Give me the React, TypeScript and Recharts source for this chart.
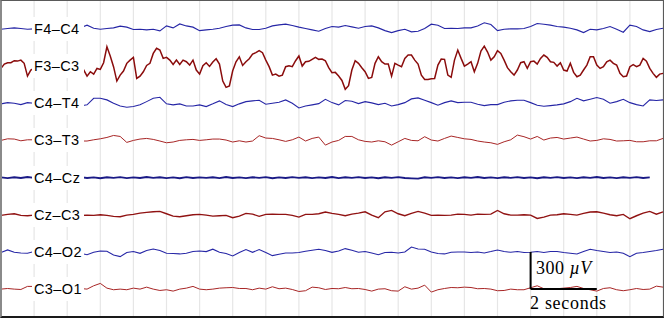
import { CartesianGrid, Line, LineChart, ReferenceLine, XAxis, YAxis } from "recharts"

// EEG montage, 20 s shown, traces stacked 300 µV apart
const W = 664
const H = 318
const SPACING = 300
const STEP = 0.2

const channels = ["F4–C4", "F3–C3", "C4–T4", "C3–T3", "C4–Cz", "Cz–C3", "C4–O2", "C3–O1"]
const seconds = [0, 1, 2, 3, 4, 5, 6, 7, 8, 9, 10, 11, 12, 13, 14, 15, 16, 17, 18, 19, 20]

// samples every 0.2 s, in µV; nulls sit under the channel labels
const f4c4 = [-3, 3, 8, 3, -3, 0, null, null, null, null, null, null,
  10, 30, 5, -3, 3, 8, 22, 14, -5, -3, -8, -3, -16, 24, 8, 40, 24, 14, -14, -8, -3, 5,
  19, 30, 32, 8, -5, -5, 5, 24, 32, 38, 27, 14, 3, -8, -19, 3, 19, 14, 27, 16, 5, 19, 24, 8, -14, -30, -14, -3, -24, -19, 3, 38, 30,
  3, 5, 3, 8, 8, 24, 49, 35, -14, -3, 0, 0, 3, 19, 43, 38, 30, 19, 14, 5, -8, -30, -3, -8, 3, 19, -3, -27, 30, 19, -8, -22, -5, 5]
const f3c3 = [-19, 27, 43, 48, -81, -19, null, null, null, null, null, null,
  -46, -81, -65, -27, 156, -5, -73, 22, 70, -81, 5, 102, 129, 70, 13, 13, 35, 48, -65, 27, 32, 16,
  -172, -38, 75, 35, 97, 124, 48, -73, -81, -5, -5, 81, 35, 54, 54, 43, -54, -81, -188, -32, 22, -46, -91, 75, 16, -81, 8, 62, 89, 16, -108, -102, 8,
  54, -91, 129, 0, 35, 22, 161, 48, 124, 48, -46, -32, 35, 35, 16, 89, 35, 0, -32, 22, -86, -32, 75, 8, -5, 48, 8, -86, -5, -5, 62, -19, -91, -59]
// F3–C3 is busier: extra samples half-way between the ones above (0.1 s, 0.3 s, ...)
const f3c3Mid = [16, 27, 40, 22, -32, -30, null, null, null, null, null, null,
  -32, -46, -19, 27, 81, -121, -40, 48, -100, -46, 22, 143, 62, 48, 48, 48, 8, -32, 3, -3, 59, -121,
  -161, 35, 5, 59, 108, 108, -5, -65, -73, 3, 43, 0, 38, 70, 56, -13, -51, -116, -159, 43, -13, -100, 22, 35, 16, 22, -5, 89, 48, -73, -108, -100, 56,
  -73, 48, 62, 16, -46, 121, 113, 75, 102, -13, -73, 27, -19, 40, 62, 70, 30, 27, -40, -51, -73, 8, 75, -19, 35, 22, -59, -81, 11, 8, 40, -59, -65]
const c4t4 = [-5, 5, 0, -11, 5, 0, null, null, null, null, null, null,
  -22, -13, 40, 40, 27, 0, -22, -32, -27, -13, 13, 40, 48, -5, -13, -5, -22, -22, -13, -27, -5, 19,
  -11, -27, -5, 13, 19, 24, -8, 0, 8, 27, 0, -38, -22, -13, -3, 32, 5, -13, 22, 16, -3, 13, 3, -11, 0, -22, -11, 5, 35, 43, 24, 5, -16,
  5, 19, 5, 8, 8, -8, -19, -11, -11, 8, 19, 24, 24, 5, -16, -24, -19, -13, -5, 13, 40, 19, 32, 46, 32, 0, 13, 32, 5, -11, -22, 27, 22, 27]
const c3t3 = [0, 13, 11, -3, 5, 5, null, null, null, null, null, null,
  -5, -5, 5, 13, 24, 40, 32, -16, 0, 11, 16, 8, -5, -19, -13, 0, 5, 8, 0, 5, 11, 11,
  3, -13, -3, -13, -5, 38, 19, 16, 5, -8, 5, 27, -5, 16, 27, -38, -13, 0, 32, 32, 5, -8, -13, -3, -11, -38, -11, 16, 0, -3, 30, 3, -5,
  16, 35, 24, 13, 8, -5, -13, -19, -32, -11, 5, 43, 30, 11, 32, 3, 19, 24, 11, 19, 27, 11, -5, 0, 13, 8, -5, -3, 0, -11, -11, -3, -3, 16]
const c4cz = [2, -4, 3, -3, 5, -2, null, null, null, null, null, null,
  4, -3, 2, -5, 3, -2, 4, -4, 2, -3, 5, -2, 3, -4, 2, -5, 4, -3, 2, -2, 3, -4,
  5, -3, 2, -4, 3, -2, 4, -5, 2, -3, 4, -2, 3, -4, 2, -3, 5, -4, 3, -2, 4, -3, 2, -5, 3, -2, 4, -3, -6, -8, 3,
  -2, 4, -3, 2, -4, 3, -2, 5, -3, 2, -4, 3, -2, 4, -3, 2, -5, 3, -2, 4, -3, 2, -4, 3, -2, 5, -3, 2, -4, 3, -2, 4, -3, 2]
const czc3 = [-5, 3, 8, -5, -8, -3, null, null, null, null, null, null,
  -5, -3, -5, 0, -5, -13, -16, -3, 3, 13, 19, 24, 27, 8, -11, -16, -8, 0, 3, -3, -11, -8,
  -5, -24, -11, 11, 5, -13, 3, 5, 3, 3, -5, -19, 3, 3, 8, 22, 11, 3, -8, 5, 13, 24, -3, -24, 24, 35, 8, -8, 11, 27, 13, -5, -3,
  -5, -3, 5, 3, -3, 5, 3, 5, 35, 8, -3, -3, 0, -3, -30, -19, -3, 0, 8, 3, -3, 11, 22, 24, 13, 0, -8, 3, -32, -8, 13, 27, 5, 24]
const c4o2 = [-5, 16, -3, -8, -11, 3, null, null, null, null, null, null,
  -11, -22, -3, 8, 5, -24, -38, -5, 3, -11, 11, 24, 11, -11, -13, -16, -11, 3, 8, 3, 22, -3,
  -13, -32, -5, 19, -3, 19, -5, -30, -19, -8, -8, -5, 5, 13, 22, 11, -3, 8, 27, 13, -3, 3, -8, -22, -5, -3, -8, 0, 40, 24, 22, 0, -13,
  -16, -3, 0, 0, -5, 0, -8, 3, 16, 3, -3, 3, -5, -3, 3, -5, 3, 3, -5, -11, -16, 3, 22, 11, 3, -5, 0, -11, -38, -11, -5, 3, 11, 22]
const c3o1 = [0, 5, 0, -3, 22, 22, null, null, null, null, null, null,
  5, 0, 27, 46, 8, -5, 0, -5, 8, 0, 16, 0, -11, -5, -16, 0, 8, 22, 0, -5, 0, 8,
  11, 13, 5, 5, -5, 8, 0, 19, 3, 8, -3, -19, -13, 16, 11, -3, 5, 3, 13, 3, 5, -3, -16, 0, 3, -13, -16, 19, 0, 8, 32, -24, -5,
  5, 13, 11, 16, 13, 3, 5, 0, -13, -11, 0, -5, -5, 11, 27, 3, 5, 3, 8, 13, 22, 5, -5, -16, 5, 11, -5, -13, -5, 5, -3, 0, 24, 16]

const series: (number | null)[][] = [f4c4, f3c3, c4t4, c3t3, c4cz, czc3, c4o2, c3o1]
const colors = ["#2626a6", "#8a0c0c", "#2626a6", "#a82626", "#1a1a86", "#901212", "#2626a6", "#a82626"]
const widths = [1.1, 1.5, 1.1, 1, 1.9, 1.4, 1.1, 1]

const n = channels.length
const offset = (c: number) => (n - 1 - c) * SPACING
const tAt = (i: number) => Math.round(i * STEP * 10) / 10

const data = f4c4.map((_, i) => {
  const row: Record<string, number | null> = { t: tAt(i) }
  series.forEach((s, c) => {
    const v = s[i]
    row["ch" + c] = v == null ? null : v + offset(c)
  })
  return row
})

// F3–C3 gets its own, denser table
const f3c3Data: { t: number; ch1: number | null }[] = []
f3c3.forEach((v, i) => {
  f3c3Data.push({ t: tAt(i), ch1: v == null ? null : v + offset(1) })
  if (i < f3c3Mid.length) {
    const m = f3c3Mid[i]
    f3c3Data.push({ t: tAt(i) + STEP / 2, ch1: m == null ? null : m + offset(1) })
  }
})

const margin = { top: 1, right: 1, bottom: 1, left: 1 }
const plotH = H - margin.top - margin.bottom
const rowH = plotH / (n + 0.5)

export default function App() {
  return (
    <div style={{ position: "absolute", left: 0, top: 0, width: W, height: H, background: "#fff" }}>
      <LineChart width={W} height={H} data={data} margin={margin}>
        <CartesianGrid horizontal={false} stroke="#e6e6e6" strokeWidth={1.2} />
        <XAxis dataKey="t" type="number" domain={[0, 20]} ticks={seconds} hide allowDuplicatedCategory={false} />
        <YAxis type="number" domain={[-0.75 * SPACING, (n - 0.25) * SPACING]} hide />
        {series.map((_, c) => (
          <Line
            key={c}
            data={c === 1 ? f3c3Data : undefined}
            dataKey={"ch" + c}
            type="linear"
            stroke={colors[c]}
            strokeWidth={widths[c]}
            dot={false}
            activeDot={false}
            isAnimationActive={false}
          />
        ))}
        <ReferenceLine segment={[{ x: 16, y: SPACING }, { x: 16, y: 0 }]} stroke="#000" strokeWidth={2} />
        <ReferenceLine segment={[{ x: 16, y: 0 }, { x: 18, y: 0 }]} stroke="#000" strokeWidth={2} />
      </LineChart>

      {channels.map((name, i) => (
        <div
          key={name}
          style={{
            position: "absolute",
            left: 32,
            width: 52,
            top: margin.top + (0.75 + i) * rowH - 12,
            height: 24,
            background: "#fff",
            display: "flex",
            alignItems: "center",
            paddingLeft: 2,
            boxSizing: "border-box",
            fontFamily: "'Liberation Sans', Arial, sans-serif",
            fontSize: 14.5,
            letterSpacing: 0.4,
            color: "#000",
            whiteSpace: "nowrap",
          }}
        >
          {name}
        </div>
      ))}

      <div
        style={{
          position: "absolute",
          left: 536,
          top: 258,
          fontFamily: "'Liberation Serif', serif",
          fontSize: 18,
          letterSpacing: 0.5,
          whiteSpace: "nowrap",
          lineHeight: "20px",
        }}
      >
        300 <i>µV</i>
      </div>
      <div
        style={{
          position: "absolute",
          left: 530,
          top: 293,
          fontFamily: "'Liberation Serif', serif",
          fontSize: 18,
          letterSpacing: 0.7,
          whiteSpace: "nowrap",
          lineHeight: "20px",
        }}
      >
        2 seconds
      </div>

      <div
        style={{
          position: "absolute",
          left: 0,
          top: 0,
          width: W,
          height: H,
          boxSizing: "border-box",
          borderTop: "1px solid #5a5a5a",
          borderRight: "1px solid #5a5a5a",
          borderLeft: "2px solid #8a8a8a",
          borderBottom: "2px solid #1a1a1a",
          pointerEvents: "none",
        }}
      />
    </div>
  )
}
